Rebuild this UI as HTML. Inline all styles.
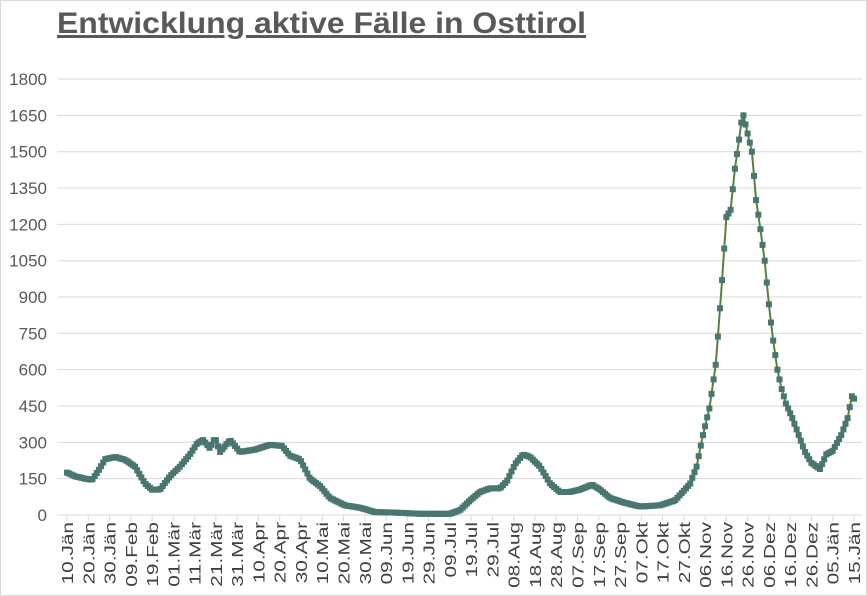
<!DOCTYPE html>
<html><head><meta charset="utf-8"><style>
body{margin:0;background:#fff}
svg{display:block;font-family:"Liberation Sans",sans-serif}
</style></head><body>
<svg id="s" width="867" height="596" xmlns="http://www.w3.org/2000/svg">
<rect x="0.5" y="0.5" width="866" height="595" fill="#fff" stroke="#d9d9d9"/>
<text x="57" y="33" font-size="30" font-weight="bold" fill="#595959" text-decoration="underline" textLength="529" lengthAdjust="spacingAndGlyphs">Entwicklung aktive Fälle in Osttirol</text>
<g id="g"></g>
</svg>
<script>
var g=document.getElementById('g'),h='';
function Y(v){return 515-v*0.2422;}
for(var i=0;i<=12;i++){var v=i*150,y=Y(v);
 if(i>0)h+='<line x1="57" x2="862" y1="'+y+'" y2="'+y+'" stroke="#d9d9d9"/>';
 h+='<text x="47" y="'+(y+6)+'" font-size="17" fill="#595959" text-anchor="end">'+v+'</text>';}
h+='<line x1="57" x2="862" y1="515" y2="515" stroke="#d9d9d9"/>';
var labs=["10.Jän","20.Jän","30.Jän","09.Feb","19.Feb","01.Mär","11.Mär","21.Mär","31.Mär","10.Apr","20.Apr","30.Apr","10.Mai","20.Mai","30.Mai","09.Jun","19.Jun","29.Jun","09.Jul","19.Jul","29.Jul","08.Aug","18.Aug","28.Aug","07.Sep","17.Sep","27.Sep","07.Okt","17.Okt","27.Okt","06.Nov","16.Nov","26.Nov","06.Dez","16.Dez","26.Dez","05.Jän","15.Jän"];
var sp=(854-67)/37;
for(var i=0;i<38;i++){var x=67+sp*i;
 h+='<line x1="'+x+'" x2="'+x+'" y1="515" y2="521" stroke="#d9d9d9"/>';
 h+='<text transform="translate('+(x+6)+',522) rotate(-90) scale(1.3,1)" font-size="16" fill="#404040" text-anchor="end">'+labs[i]+'</text>';}
var P=[[67,175],[75,160],[85,150],[92,145],[98,180],[105,230],[115,240],[125,228],[135,200],[145,130],[152,105],[160,105],[170,160],[180,200],[190,250],[197,295],[203,310],[210,275],[215,320],[220,260],[230,310],[240,260],[255,270],[270,290],[282,285],[290,245],[300,230],[310,150],[320,120],[330,70],[345,40],[360,30],[375,12],[395,10],[420,5],[450,5],[460,20],[470,60],[480,95],[490,110],[500,110],[507,140],[515,210],[523,250],[530,240],[540,200],[550,130],[560,95],[570,95],[580,105],[592,125],[600,105],[610,70],[625,50],[640,35],[660,40],[675,60]];
var D=[[290,100],[293,130],[296,200],[299,330],[302,440],[305,620],[308,970],[310,1230],[312,1260],[314,1430],[316,1550],[317,1620],[318,1650],[320,1575],[322,1500],[324,1300],[326,1180],[328,1050],[330,870],[332,720],[334,600],[336,520],[338,460],[341,400],[344,330],[347,260],[350,215],[354,190],[357,250],[360,265],[364,330],[367,400],[369,490],[370,480]];
D.forEach(function(p){P.push([67+p[0]*2.127,p[1]]);});
function val(x){for(var i=0;i<P.length-1;i++){if(x>=P[i][0]&&x<=P[i+1][0]){var t=(x-P[i][0])/(P[i+1][0]-P[i][0]);return P[i][1]+t*(P[i+1][1]-P[i][1]);}}return P[P.length-1][1];}
var pts=[];
for(var d=0;d<=370;d++){var x=67+d*2.127;pts.push([x,Y(val(x))]);}
h+='<polyline fill="none" stroke="#5b7f3c" stroke-width="2" points="'+pts.map(function(p){return p[0].toFixed(1)+','+p[1].toFixed(1)}).join(' ')+'"/>';
pts.forEach(function(p){h+='<rect x="'+(p[0]-3).toFixed(1)+'" y="'+(p[1]-3).toFixed(1)+'" width="6" height="6" fill="#4a7670"/>';});
g.innerHTML=h;
</script>
</body></html>
